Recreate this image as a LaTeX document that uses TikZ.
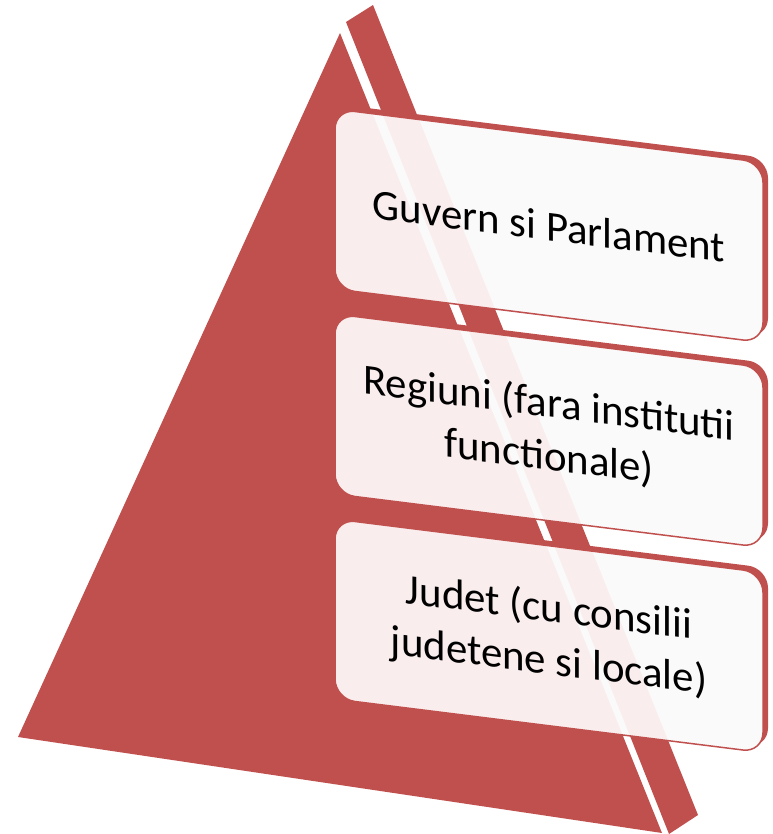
\documentclass[tikz,border=0pt]{standalone}
\usepackage{fontspec}
\setmainfont{Carlito}
\usepackage{tikz}
\definecolor{pyrred}{RGB}{192,80,77}
\colorlet{boxpink}{pyrred!10!white}
\definecolor{boxwhite}{RGB}{250,250,250}

\begin{document}
\begin{tikzpicture}[x=1bp, y=1bp,
  face/.style={fill=pyrred},
  boxback/.style={fill=pyrred, rounded corners=20bp, minimum width=428bp, minimum height=180bp},
  boxfront/.style={fill=boxwhite, draw=pyrred, line width=1.5bp, rounded corners=20bp,
    minimum width=428bp, minimum height=180bp, align=center, font=\fontsize{43}{53}\selectfont,
    path picture={\fill[boxpink] (apex) -- (left) -- (right) -- cycle (s1) -- (s2) -- (s3) -- (s4) -- cycle;}}]

\useasboundingbox (0,0) rectangle (773,-834);

\coordinate (apex) at (340,-33);
\coordinate (left) at (18,-737);
\coordinate (right) at (662,-833);
\coordinate (s1) at (346,-22);
\coordinate (s2) at (373,-5);
\coordinate (s3) at (698,-815);
\coordinate (s4) at (669,-834);

\fill[face] (apex) -- (left) -- (right) -- cycle;
\fill[face] (s1) -- (s2) -- (s3) -- (s4) -- cycle;

\begin{scope}[shift={(335,0)}, yslant=-0.125, transform shape]
\foreach \n/\y/\txt in {gov/-199/{Guvern si Parlament}, reg/-404/{Regiuni (fara institutii\\functionale)}, jud/-609/{Judet (cu consilii\\judetene si locale)}}{
\node[boxback] (\n-back) at (219,\y+5) {};
\node[boxfront] (\n) at (214,\y) {\txt};
}
\end{scope}

\end{tikzpicture}
\end{document}
